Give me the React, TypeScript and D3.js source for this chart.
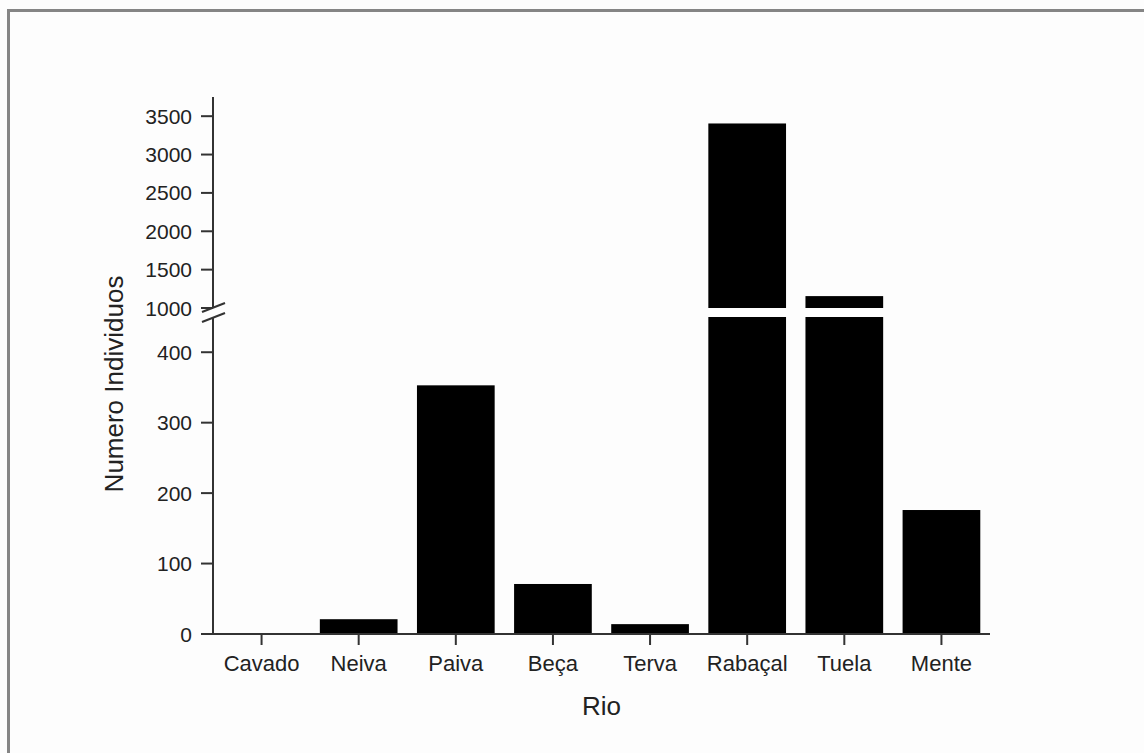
import React, { useEffect, useRef } from "react";
import * as d3 from "d3";

const categories = ["Cavado", "Neiva", "Paiva", "Beça", "Terva", "Rabaçal", "Tuela", "Mente"];
const values = [0, 21, 353, 71, 14, 3405, 1155, 176];
const lowerTicks = [0, 100, 200, 300, 400];
const upperTicks = [1000, 1500, 2000, 2500, 3000, 3500];
const lowerDomain = [0, 450];
const upperDomain = [1000, 3750];
const xTitle = "Rio";
const yTitle = "Numero Individuos";

export default function App() {
  const ref = useRef<SVGSVGElement>(null);

  useEffect(() => {
    const svg = d3.select(ref.current);
    svg.selectAll("*").remove();
    const font = "'Liberation Sans', Arial, sans-serif";
    const axisColor = "#333";
    const textColor = "#222";

    // frame
    svg.append("rect").attr("x", 0).attr("y", 0).attr("width", 1144).attr("height", 753).attr("fill", "#fdfdfd");
    svg.append("line").attr("x1", 8.5).attr("x2", 8.5).attr("y1", 9).attr("y2", 753)
      .attr("stroke", "#858585").attr("stroke-width", 3);
    svg.append("line").attr("x1", 7).attr("x2", 1144).attr("y1", 10.5).attr("y2", 10.5)
      .attr("stroke", "#858585").attr("stroke-width", 3);

    const x = d3.scaleBand<string>().domain(categories).range([213, 990]).paddingInner(0.2).paddingOuter(0.1);
    const yL = d3.scaleLinear().domain(lowerDomain).range([634, 317]);
    const yU = d3.scaleLinear().domain(upperDomain).range([308, 97]);

    // bars
    const g = svg.append("g");
    categories.forEach((c, i) => {
      const v = values[i];
      const lv = Math.min(v, lowerDomain[1]);
      if (v > 0) {
        g.append("rect").attr("x", x(c)!).attr("width", x.bandwidth())
          .attr("y", yL(lv)).attr("height", yL(0) - yL(lv)).attr("fill", "#000");
      }
      if (v > upperDomain[0]) {
        g.append("rect").attr("x", x(c)!).attr("width", x.bandwidth())
          .attr("y", yU(v)).attr("height", yU(upperDomain[0]) - yU(v)).attr("fill", "#000");
      }
    });

    const axX = 213;
    // y axis segments
    svg.append("line").attr("x1", axX).attr("x2", axX).attr("y1", yU(upperDomain[1])).attr("y2", yU(upperDomain[0]))
      .attr("stroke", axisColor).attr("stroke-width", 2);
    svg.append("line").attr("x1", axX).attr("x2", axX).attr("y1", yL(lowerDomain[1])).attr("y2", yL(0))
      .attr("stroke", axisColor).attr("stroke-width", 2);

    // break marks
    [yU(upperDomain[0]) - 0.5, yL(lowerDomain[1]) + 0.5].forEach((cy) => {
      svg.append("line").attr("x1", axX - 11).attr("x2", axX + 12).attr("y1", cy + 4.5).attr("y2", cy - 4.5)
        .attr("stroke", axisColor).attr("stroke-width", 2);
    });

    // y ticks
    const tickG = svg.append("g").attr("font-family", font).attr("font-size", 21).attr("fill", textColor);
    const yTick = (yy: number, label: string) => {
      svg.append("line").attr("x1", axX - 12).attr("x2", axX).attr("y1", yy).attr("y2", yy)
        .attr("stroke", axisColor).attr("stroke-width", 2);
      tickG.append("text").attr("x", 192).attr("y", yy).attr("dy", "0.36em")
        .attr("text-anchor", "end").text(label);
    };
    upperTicks.forEach((t) => yTick(yU(t), String(t)));
    lowerTicks.forEach((t) => yTick(yL(t), String(t)));

    // x axis
    svg.append("line").attr("x1", axX - 1).attr("x2", 990).attr("y1", yL(0)).attr("y2", yL(0))
      .attr("stroke", axisColor).attr("stroke-width", 2);
    categories.forEach((c) => {
      const cx = x(c)! + x.bandwidth() / 2;
      svg.append("line").attr("x1", cx).attr("x2", cx).attr("y1", yL(0)).attr("y2", yL(0) + 11)
        .attr("stroke", axisColor).attr("stroke-width", 2);
      tickG.append("text").attr("x", cx).attr("y", 671).attr("text-anchor", "middle")
        .attr("font-size", 22).text(c);
    });

    // titles
    svg.append("text").attr("x", (213 + 990) / 2).attr("y", 715).attr("text-anchor", "middle")
      .attr("font-family", font).attr("font-size", 26).attr("fill", textColor).text(xTitle);
    svg.append("text").attr("transform", "translate(123,384) rotate(-90)").attr("text-anchor", "middle")
      .attr("font-family", font).attr("font-size", 26).attr("fill", textColor).text(yTitle);
  }, []);

  return (
    <svg ref={ref} width={1144} height={753}
      style={{ position: "absolute", left: 0, top: 0, display: "block" }} />
  );
}
